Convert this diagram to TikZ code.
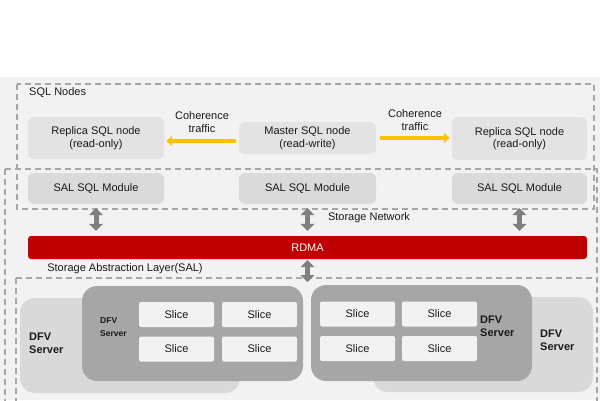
\documentclass[tikz,border=0pt]{standalone}
\usepackage{fontspec}
\setmainfont{Liberation Sans}
\usetikzlibrary{arrows.meta}
\definecolor{bgc}{HTML}{F2F2F2}
\definecolor{nodec}{HTML}{E3E3E3}
\definecolor{modc}{HTML}{DADADA}
\definecolor{backc}{HTML}{D9D9D9}
\definecolor{frontc}{HTML}{A6A6A6}
\definecolor{slicec}{HTML}{F2F2F2}
\definecolor{dashc}{HTML}{A6A6A6}
\definecolor{arrowc}{HTML}{7F7F7F}
\definecolor{orangec}{HTML}{FFC000}
\definecolor{redc}{HTML}{C00000}
\definecolor{txt}{HTML}{1A1A1A}
\tikzset{
  box/.style={fill=nodec, rounded corners=6pt, inner sep=0pt, align=center, text=txt},
  modbox/.style={box, fill=modc},
  slicebox/.style={fill=slicec, rounded corners=2pt, minimum width=75pt, minimum height=25pt, inner sep=0pt, text=txt},
  frame/.style={draw=dashc, line width=1.3pt, dash pattern=on 6pt off 4pt},
  dbl/.style={draw=arrowc, line width=5pt, {Triangle[width=14pt,length=7pt]}-{Triangle[width=14pt,length=7pt]}},
  orarrow/.style={draw=orangec, line width=4pt, -{Triangle[width=10pt,length=6pt]}},
  lbl/.style={inner sep=0pt, text=txt, align=center},
  dfv/.style={inner sep=0pt, text=txt, align=left, font=\fontsize{11}{13}\selectfont\bfseries},
}
\begin{document}
\begin{tikzpicture}[x=1pt,y=-1pt,font=\fontsize{11}{12.5}\selectfont]
\useasboundingbox (0,0) rectangle (600,400);
\clip (0,0) rectangle (600,400);
\fill[white] (0,0) rectangle (600,400);
\fill[bgc] (0,77) rectangle (600,400);

% dashed frames
\draw[frame] (17,84) rectangle (594,209);
\draw[frame] (5,169) rectangle (597,420);
\draw[frame] (16,278) rectangle (597,420);

\node[lbl, anchor=west] (sqlnodes) at (29,93) {SQL Nodes};

% SQL nodes
\node[box, minimum width=136pt, minimum height=42pt] (repL) at (96,138) {Replica SQL node\\(read-only)};
\node[box, minimum width=137pt, minimum height=32pt] (master) at (307.5,138) {Master SQL node\\(read-write)};
\node[box, minimum width=135pt, minimum height=43pt] (repR) at (519.5,138.5) {Replica SQL node\\(read-only)};

% SAL SQL modules
\node[modbox, minimum width=136pt, minimum height=31pt] (salL) at (96,188.5) {SAL SQL Module};
\node[modbox, minimum width=137pt, minimum height=31pt] (salM) at (307.5,188.5) {SAL SQL Module};
\node[modbox, minimum width=135pt, minimum height=31pt] (salR) at (519.5,188.5) {SAL SQL Module};

% coherence
\node[lbl] (cohL) at (202,122) {Coherence\\traffic};
\node[lbl] (cohR) at (415,120) {Coherence\\traffic};
\draw[orarrow, shorten <=3pt, shorten >=2pt] ([yshift=-3pt]master.west) -- ([yshift=-3pt]master.west -| repL.east);
\draw[orarrow, shorten <=4pt, shorten >=2pt] (master.east) -- (master.east -| repR.west);

% RDMA
\node[fill=redc, rounded corners=3pt, minimum width=559pt, minimum height=23pt, inner sep=0pt, text=white] (rdma) at (307.5,247.5) {RDMA};

\node[lbl] (stnet) at (369,218) {Storage Network};
\node[lbl] (sal) at (125,269) {Storage Abstraction Layer(SAL)};

\draw[dbl, shorten <=4pt, shorten >=5pt] (salL.south) -- (salL.south |- rdma.north);
\draw[dbl, shorten <=4pt, shorten >=5pt] (salM.south) -- (salM.south |- rdma.north);
\draw[dbl, shorten <=4pt, shorten >=5pt] (salR.south) -- (salR.south |- rdma.north);
\coordinate (saltop) at (307.5,282);
\draw[dbl, shorten <=1pt] (rdma.south) -- (saltop);

% DFV servers
\fill[backc, rounded corners=15pt] (20,298) rectangle (240,393);
\fill[backc, rounded corners=15pt] (373,297) rectangle (593,392);
\fill[frontc, rounded corners=15pt] (82,286) rectangle (303,381);
\fill[frontc, rounded corners=15pt] (311,285) rectangle (532,381);

\node[slicebox] (s1) at (176.5,314.5) {Slice};
\node[slicebox] (s2) at (259.5,314.5) {Slice};
\node[slicebox] (s3) at (176.5,349) {Slice};
\node[slicebox] (s4) at (259.5,349) {Slice};
\node[slicebox] (s5) at (357.5,314) {Slice};
\node[slicebox] (s6) at (439.5,314) {Slice};
\node[slicebox] (s7) at (357.5,348.5) {Slice};
\node[slicebox] (s8) at (439.5,348.5) {Slice};

\node[dfv, anchor=west] (dfv1) at (29,343) {DFV\\Server};
\node[dfv, anchor=west, font=\fontsize{8.5}{12.5}\selectfont\bfseries] (dfv2) at (100,327) {DFV\\Server};
\node[dfv, anchor=west] (dfv3) at (480,326.5) {DFV\\Server};
\node[dfv, anchor=west] (dfv4) at (540,340.5) {DFV\\Server};
\end{tikzpicture}
\end{document}
